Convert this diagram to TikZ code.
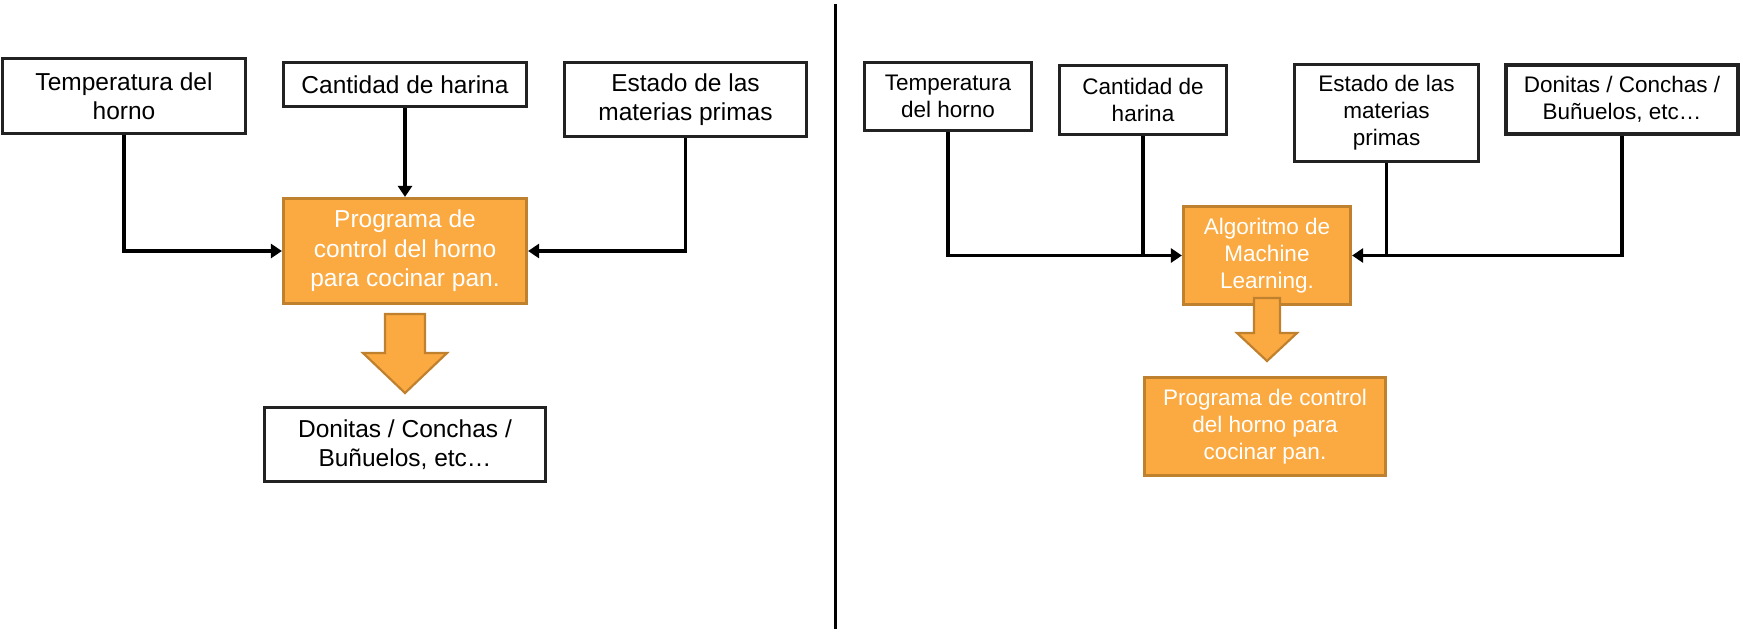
\documentclass[tikz,border=0pt]{standalone}
\usepackage{fontspec}
\setmainfont{Liberation Sans}
\usetikzlibrary{arrows.meta}
\definecolor{orfill}{HTML}{FBAA42}
\definecolor{ordraw}{HTML}{C0812F}
\definecolor{boxline}{HTML}{222222}
\begin{document}
\begin{tikzpicture}[x=1pt,y=-1pt,
  wbox/.style={draw=boxline, line width=3.3pt, fill=white, align=center, inner sep=0pt, text=black},
  obox/.style={draw=ordraw, line width=3.2pt, fill=orfill, align=center, inner sep=0pt, text=white},
  bigtext/.style={font=\fontsize{24.5}{29.4}\selectfont},
  smalltext/.style={font=\fontsize{22.5}{27}\selectfont},
  conn/.style={line width=3.5pt, black},
  arr/.style={conn, -{Triangle[length=11pt,width=14pt]}},
  blockarrow/.style={fill=orfill, draw=ordraw, line width=2.2pt, line join=miter}]
\useasboundingbox (0,0) rectangle (1743,638);
% left half
\node[wbox,bigtext,minimum width=243pt,minimum height=75pt] (L1) at (124,96) {Temperatura del\\horno};
\node[wbox,bigtext,minimum width=243pt,minimum height=44pt] (L2) at (405,84.5) {Cantidad de harina};
\node[wbox,bigtext,minimum width=242pt,minimum height=74pt] (L3) at (685.5,99.5) {Estado de las\\materias primas};
\node[obox,bigtext,minimum width=243pt,minimum height=105pt] (LO) at (405,251) {Programa de\\control del horno\\para cocinar pan.};
\node[wbox,bigtext,minimum width=281pt,minimum height=74pt] (LD) at (405,444.5) {Donitas / Conchas /\\Buñuelos, etc…};
\draw[arr] (L1.south) |- (LO.west);
\draw[arr] (L2.south) -- (LO.north);
\draw[arr] (L3.south) |- (LO.east);
\draw[blockarrow] (385,314) -- (425,314) -- (425,353) -- (447,353) -- (405,393) -- (363,353) -- (385,353) -- cycle;
% divider
\draw[line width=3pt, black] (835,4) -- (835,629);
% right half
\node[wbox,smalltext,minimum width=167pt,minimum height=68pt] (R1) at (948,96.5) {Temperatura\\del horno};
\node[wbox,smalltext,minimum width=167pt,minimum height=69pt] (R2) at (1143,100) {Cantidad de\\harina};
\node[wbox,smalltext,minimum width=184pt,minimum height=97pt] (R3) at (1386.5,113) {Estado de las\\materias\\primas};
\node[wbox,smalltext,line width=4pt,minimum width=232pt,minimum height=69pt] (R4) at (1622,99.5) {Donitas / Conchas /\\Buñuelos, etc…};
\node[obox,smalltext,minimum width=167pt,minimum height=98pt] (RO) at (1267,255.5) {Algoritmo de\\Machine\\Learning.};
\node[obox,smalltext,minimum width=241pt,minimum height=98pt] (RP) at (1265,426.5) {Programa de control\\del horno para\\cocinar pan.};
\draw[arr] (R1.south) |- (RO.west);
\draw[conn] (R2.south) -- (R2.south |- RO.west);
\draw[conn] (R3.south) -- (R3.south |- RO.east);
\draw[arr] (R4.south) |- (RO.east);
\draw[blockarrow] (1254,298) -- (1280,298) -- (1280,333) -- (1297,333) -- (1267,361) -- (1237,333) -- (1254,333) -- cycle;
\end{tikzpicture}
\end{document}
